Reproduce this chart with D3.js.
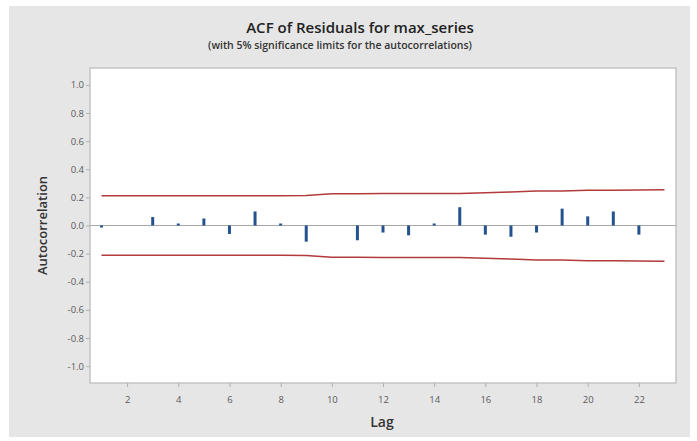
<!DOCTYPE html>
<html>
<head>
<meta charset="utf-8">
<script src="https://cdn.jsdelivr.net/npm/d3@7"></script>
<style>
  body { margin: 0; background: #fff; }
  text { font-family: "Open Sans", "DejaVu Sans", sans-serif; }
</style>
</head>
<body>
<div id="chart"></div>
<script>
// data
const lags = [1, 2, 3, 4, 5, 6, 7, 8, 9, 10, 11, 12, 13, 14, 15, 16, 17, 18, 19, 20, 21, 22];
const acf = [-0.01, 0.0, 0.06, 0.01, 0.05, -0.06, 0.10, 0.01, -0.115, 0.0, -0.105, -0.05,
             -0.07, 0.005, 0.13, -0.065, -0.08, -0.05, 0.12, 0.065, 0.10, -0.065];
// 5% significance limits, one per lag (1..23)
const limitLags = [1, 2, 3, 4, 5, 6, 7, 8, 9, 10, 11, 12, 13, 14, 15, 16, 17, 18, 19, 20, 21, 22, 23];
const limits = [0.212, 0.212, 0.212, 0.212, 0.212, 0.212, 0.212, 0.212, 0.213, 0.225, 0.226,
                0.228, 0.228, 0.228, 0.228, 0.233, 0.239, 0.245, 0.246, 0.25, 0.251, 0.253, 0.255];
const yTicks = [-1.0, -0.8, -0.6, -0.4, -0.2, 0.0, 0.2, 0.4, 0.6, 0.8, 1.0];
const xTicks = [2, 4, 6, 8, 10, 12, 14, 16, 18, 20, 22];

const W = 697, H = 441;
const margin = {left: 90, right: 21, top: 68, bottom: 58};
const width = W - margin.left - margin.right;
const height = H - margin.top - margin.bottom;

const svg = d3.select("#chart")
    .append("svg")
    .attr("width", W)
    .attr("height", H);

// gray panel
svg.append("rect")
    .attr("x", 9).attr("y", 6)
    .attr("width", 681).attr("height", 431)
    .attr("fill", "#e6e6e6");

// titles
svg.append("text")
    .attr("x", 360).attr("y", 33)
    .attr("text-anchor", "middle")
    .style("font-size", "15px")
    .style("font-weight", "600")
    .attr("fill", "#222")
    .text("ACF of Residuals for max_series");

svg.append("text")
    .attr("x", 340).attr("y", 49)
    .attr("text-anchor", "middle")
    .style("font-size", "10.5px")
    .style("font-weight", "600")
    .attr("fill", "#333")
    .text("(with 5% significance limits for the autocorrelations)");

const g = svg.append("g")
    .attr("transform", `translate(${margin.left}, ${margin.top})`);

const x = d3.scaleLinear().domain([0.55, 23.45]).range([0, width]);
const y = d3.scaleLinear().domain([-1.12, 1.12]).range([height, 0]);

// plot area
g.append("rect")
    .attr("width", width).attr("height", height)
    .attr("fill", "#fff")
    .attr("stroke", "#c4c4c4")
    .attr("stroke-width", 1.5);

// axes (hyphen minus like the original)
const fmt = d => d.toFixed(1);
const yAxis = g.append("g")
    .call(d3.axisLeft(y).tickValues(yTicks).tickFormat(fmt).tickSize(4).tickPadding(2));
const xAxis = g.append("g")
    .attr("transform", `translate(0, ${height})`)
    .call(d3.axisBottom(x).tickValues(xTicks).tickSize(4).tickPadding(9));

[yAxis, xAxis].forEach(a => {
    a.select(".domain").remove();
    a.selectAll(".tick line").attr("stroke", "#b0b0b0");
    a.selectAll(".tick text")
        .attr("fill", "#5a5a5a")
        .style("font-size", "9.5px")
        .style("font-family", "'Open Sans', sans-serif");
});

// zero reference line
g.append("line")
    .attr("x1", 0).attr("x2", width)
    .attr("y1", y(0)).attr("y2", y(0))
    .attr("stroke", "#a8a8a8")
    .attr("stroke-width", 1);

// significance limits
const limitLine = d3.line()
    .x((d, i) => x(limitLags[i]));

g.append("path")
    .datum(limits)
    .attr("d", limitLine.y(d => y(d)))
    .attr("fill", "none")
    .attr("stroke", "#b33a3a")
    .attr("stroke-width", 1.5);

g.append("path")
    .datum(limits)
    .attr("d", limitLine.y(d => y(-d)))
    .attr("fill", "none")
    .attr("stroke", "#b33a3a")
    .attr("stroke-width", 1.5);

// acf bars (tiny non-zero values still show as a small stub)
g.selectAll(".acf")
    .data(lags.filter((d, i) => acf[i] !== 0))
    .join("line")
    .attr("class", "acf")
    .attr("x1", d => x(d)).attr("x2", d => x(d))
    .attr("y1", y(0))
    .attr("y2", d => {
        const v = acf[lags.indexOf(d)];
        return Math.abs(y(v) - y(0)) < 2 ? y(0) + (v < 0 ? 2 : -2) : y(v);
    })
    .attr("stroke", "#24528f")
    .attr("stroke-width", 3);

// axis titles
svg.append("text")
    .attr("transform", `translate(47, ${margin.top + height / 2}) rotate(-90)`)
    .attr("text-anchor", "middle")
    .style("font-size", "13px")
    .style("font-weight", "600")
    .attr("fill", "#333")
    .text("Autocorrelation");

svg.append("text")
    .attr("x", margin.left + width / 2 - 1)
    .attr("y", 427)
    .attr("text-anchor", "middle")
    .style("font-size", "14px")
    .style("font-weight", "600")
    .attr("fill", "#333")
    .text("Lag");
</script>
</body>
</html>
